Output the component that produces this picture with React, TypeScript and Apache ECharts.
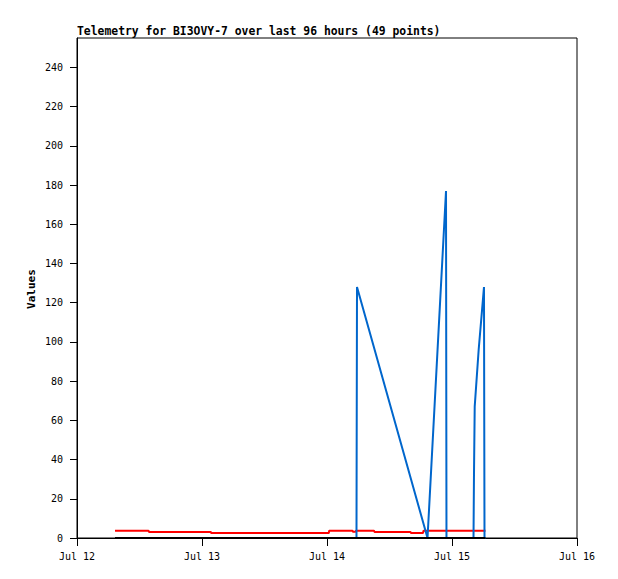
import React, { useEffect, useRef } from "react";
import * as echarts from "echarts";

// Hours since Jul 12 00:00
const dayLabels = ["Jul 12", "Jul 13", "Jul 14", "Jul 15", "Jul 16"];
const xTicks = [0, 24, 48, 72, 96];
const yTicks = [0, 20, 40, 60, 80, 100, 120, 140, 160, 180, 200, 220, 240];

const blueHours = [7.3, 53.66, 53.76, 67.3, 70.85, 70.94, 76.13, 76.22, 76.36, 77.12, 77.76, 78.14, 78.24, 78.43];
const blueValues = [0, 0, 128, 0, 177, 0, 0, 32, 67, 96, 116, 128, 0, 0];

const redHours = [7.3, 13.73, 13.82, 25.69, 25.77, 48.35, 48.42, 52.9, 52.99, 53.47, 53.57, 57.02, 57.12, 64.03, 64.13, 66.43, 66.53, 78.43];
const redValues = [3.73, 3.73, 3.06, 3.06, 2.55, 2.55, 3.73, 3.73, 3.2, 3.2, 3.73, 3.73, 3.06, 3.06, 2.55, 2.55, 3.73, 3.73];

const blackHours = [7.3, 78.43];
const blackValues = [0, 0];

const FONT = "DejaVu Sans Mono";

function pairs(xs: number[], ys: number[]) {
  return xs.map((x, i) => [x, ys[i]]);
}

export default function App() {
  const ref = useRef<HTMLDivElement>(null);
  useEffect(() => {
    const chart = echarts.init(ref.current!, null, { renderer: "svg" });
    chart.setOption({
      animation: false,
      backgroundColor: "#ffffff",
      grid: {
        left: 77,
        top: 38,
        width: 500,
        height: 500,
        show: true,
        borderColor: "#000",
        borderWidth: 1,
        backgroundColor: "transparent",
      },
      graphic: [
        {
          type: "text",
          left: 77,
          top: 25,
          style: {
            text: "Telemetry for BI3OVY-7 over last 96 hours (49 points)",
            font: `bold 11.4px "${FONT}"`,
            fill: "#000",
          },
        },
        {
          type: "text",
          x: 31,
          y: 289,
          rotation: Math.PI / 2,
          style: {
            text: "Values",
            font: `bold 11px "${FONT}"`,
            fill: "#000",
            align: "center",
            verticalAlign: "middle",
          },
        },
      ],
      xAxis: {
        type: "value",
        min: 0,
        max: 96,
        interval: 24,
        splitLine: { show: false },
        axisLine: { show: true, onZero: false, lineStyle: { color: "#000", width: 1 } },
        axisTick: { show: true, inside: false, length: 8, customValues: xTicks, lineStyle: { color: "#000" } },
        axisLabel: {
          customValues: xTicks,
          margin: 13,
          color: "#000",
          fontFamily: FONT,
          fontSize: 10,
          formatter: (v: number) => dayLabels[Math.round(v / 24)] ?? "",
        },
      },
      yAxis: {
        type: "value",
        min: 0,
        max: 255,
        interval: 20,
        splitLine: { show: false },
        axisLine: { show: true, lineStyle: { color: "#000", width: 1 } },
        axisTick: { show: true, inside: false, length: 7, customValues: yTicks, lineStyle: { color: "#000" } },
        axisLabel: {
          customValues: yTicks,
          margin: 14,
          color: "#000",
          fontFamily: FONT,
          fontSize: 10,
        },
      },
      series: [
        {
          type: "line",
          data: pairs(redHours, redValues),
          showSymbol: false,
          symbol: "none",
          clip: false,
          lineStyle: { color: "#ff0000", width: 2 },
        },
        {
          type: "line",
          data: pairs(blueHours, blueValues),
          showSymbol: false,
          symbol: "none",
          clip: false,
          lineStyle: { color: "#0066cc", width: 2 },
        },
        {
          type: "line",
          data: pairs(blackHours, blackValues),
          showSymbol: false,
          symbol: "none",
          clip: false,
          lineStyle: { color: "#000000", width: 2 },
        },
      ],
    });
    return () => chart.dispose();
  }, []);
  return (
    <div
      ref={ref}
      style={{ position: "absolute", left: 0, top: 0, width: 618, height: 579 }}
    />
  );
}
